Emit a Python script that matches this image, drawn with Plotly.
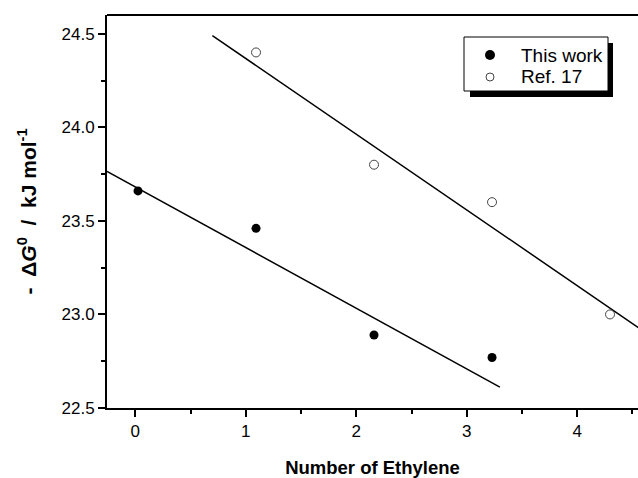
import plotly.graph_objects as go

# Data (x = number of ethylene units, y = -ΔG0 in kJ/mol)
n_ethylene = [0, 1, 2, 3]
this_work = [23.66, 23.46, 22.89, 22.77]
n_ethylene_ref = [1, 2, 3, 4]
ref17 = [24.40, 23.80, 23.60, 23.00]

# Fitted straight lines (end points)
fit_this_x = [-0.256, 3.30]
fit_this_y = [23.764, 22.612]
fit_ref_x = [0.63, 4.24]
fit_ref_y = [24.49, 22.93]

x_ticks = [0, 1, 2, 3, 4]
y_ticks = [22.5, 23.0, 23.5, 24.0, 24.5]
legend_labels = ["This work", "Ref. 17"]

FONT = "Arial, Liberation Sans, Helvetica, sans-serif"

# plot-area geometry in pixels (for the hand-drawn legend box)
L, R, T, B = 107, 638, 15, 408
def px(x):
    return (x - L) / (R - L)
def py(y):
    return (B - y) / (B - T)

fig = go.Figure()

fig.add_trace(go.Scatter(x=fit_this_x, y=fit_this_y, mode="lines", xaxis="x",
                         line=dict(color="black", width=1.5), showlegend=False, hoverinfo="skip"))
fig.add_trace(go.Scatter(x=fit_ref_x, y=fit_ref_y, mode="lines", xaxis="x2",
                         line=dict(color="black", width=1.5), showlegend=False, hoverinfo="skip"))
fig.add_trace(go.Scatter(x=n_ethylene, y=this_work, mode="markers", xaxis="x2", name=legend_labels[0],
                         showlegend=False,
                         marker=dict(symbol="circle", size=9, color="black", line=dict(width=0))))
fig.add_trace(go.Scatter(x=n_ethylene_ref, y=ref17, mode="markers", xaxis="x2", name=legend_labels[1],
                         showlegend=False,
                         marker=dict(symbol="circle-open", size=9, color="#444444", line=dict(width=1))))

# legend: shadow, box, symbols, labels
fig.add_shape(type="rect", xref="paper", yref="paper",
              x0=px(470), x1=px(613), y0=py(97), y1=py(43),
              fillcolor="black", line=dict(width=0), layer="above")
fig.add_shape(type="rect", xref="paper", yref="paper",
              x0=px(464), x1=px(608), y0=py(91), y1=py(37),
              fillcolor="white", line=dict(color="black", width=1), layer="above")
fig.add_shape(type="circle", xref="paper", yref="paper",
              x0=px(485), x1=px(495), y0=py(60), y1=py(50),
              fillcolor="black", line=dict(color="black", width=0), layer="above")
fig.add_shape(type="circle", xref="paper", yref="paper",
              x0=px(486), x1=px(494), y0=py(81), y1=py(73),
              fillcolor="white", line=dict(color="#444444", width=1), layer="above")
for lbl, yc in zip(legend_labels, [55, 77]):
    fig.add_annotation(xref="paper", yref="paper", x=px(519), y=py(yc), text=lbl,
                       showarrow=False, xanchor="left", yanchor="middle",
                       font=dict(family=FONT, size=19, color="black"))

fig.update_layout(
    width=638, height=478,
    margin=dict(l=L, r=638 - R, t=T, b=478 - B),
    paper_bgcolor="white", plot_bgcolor="white",
    font=dict(family=FONT, size=17, color="black"),
    showlegend=False,
    xaxis=dict(range=[-0.256, 4.55], tickvals=x_ticks, ticktext=[str(v) for v in x_ticks],
               showline=True, linecolor="black", linewidth=2, mirror=False,
               ticks="outside", ticklen=7, tickwidth=2, tickcolor="black",
               minor=dict(dtick=0.5, tick0=0, ticks="outside", ticklen=4, tickwidth=1.5, tickcolor="black"),
               showgrid=False, zeroline=False,
               tickfont=dict(size=17),
               title=dict(text="<b>Number of Ethylene</b>", font=dict(size=18.5), standoff=21)),
    xaxis2=dict(range=[-0.263, 4.237], overlaying="x", visible=False),
    yaxis=dict(range=[22.5, 24.6], tickvals=y_ticks, ticktext=[f"{v:.1f}" for v in y_ticks],
               showline=True, linecolor="black", linewidth=2,
               ticks="outside", ticklen=7, tickwidth=2, tickcolor="black",
               minor=dict(dtick=0.25, tick0=22.5, ticks="outside", ticklen=4, tickwidth=1.5, tickcolor="black"),
               showgrid=False, zeroline=False,
               tickfont=dict(size=17),
               title=dict(text="<b>-  Δ<i>G</i><sup>0</sup>  /  kJ mol<sup>-1</sup></b>", font=dict(size=21), standoff=19)),
)

# top frame line
fig.add_shape(type="line", xref="paper", yref="paper", x0=0, x1=1, y0=1, y1=1,
              line=dict(color="black", width=2))

fig.write_html("out.html")
